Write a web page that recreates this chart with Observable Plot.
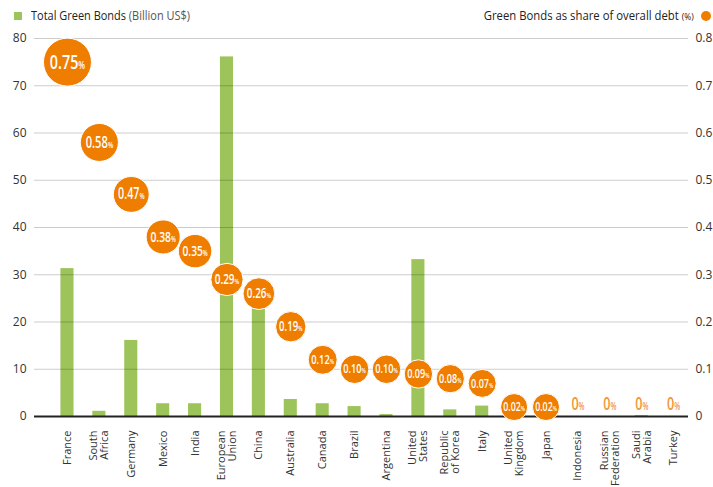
<!DOCTYPE html>
<html><head><meta charset="utf-8">
<script src="https://cdn.jsdelivr.net/npm/d3@7"></script>
<script src="https://cdn.jsdelivr.net/npm/@observablehq/plot@0.6"></script>
<style>
body{margin:0;background:#fff;}
#legend{position:relative;height:30px;width:713px;font-family:"Open Sans",sans-serif;font-size:12px;color:#222;}
#legend .l{position:absolute;left:14px;top:7px;white-space:nowrap;display:flex;align-items:center;}
#legend .r{position:absolute;right:2px;top:7px;white-space:nowrap;display:flex;align-items:center;}
#legend .txt{display:inline-block;white-space:nowrap;}
#legend .sq{display:inline-block;width:8px;height:8px;background:#9dc35b;margin-right:9px;}
#legend .light{color:#555;}
#legend .small{font-size:9px;}
#legend .dot{display:inline-block;width:10px;height:10px;border-radius:50%;background:#ee7d00;margin-left:7px;}
#chart svg{display:block;}
</style></head><body>
<div id="legend">
  <div class="l"><span class="sq"></span><span class="txt" id="lt">Total Green Bonds <span class="light">(Billion US$)</span></span></div>
  <div class="r"><span class="txt" id="rt">Green Bonds as share of overall debt <span class="small">(%)</span></span><span class="dot"></span></div>
</div>
<div id="chart"></div>
<script>
const countries = ["France","South\nAfrica","Germany","Mexico","India","European\nUnion","China","Australia","Canada","Brazil","Argentina","United\nStates","Republic\nof Korea","Italy","United\nKingdom","Japan","Indonesia","Russian\nFederation","Saudi\nArabia","Turkey"];
const greenBonds = [31.3,1.1,16.1,2.7,2.7,76.1,26,3.6,2.7,2.1,0.4,33.2,1.4,2.2,0.8,0.5,0,0,0.2,0];
const shareOfDebt = [0.75,0.58,0.47,0.38,0.35,0.29,0.26,0.19,0.12,0.10,0.10,0.09,0.08,0.07,0.02,0.02,0,0,0,0];
const leftTicks = [0,10,20,30,40,50,60,70,80];

const data = countries.map((c,i)=>({country:c, bonds:greenBonds[i], share:shareOfDebt[i]}));
const fmt = v => v === 0 ? "0" : v.toFixed(2);
const rDomain = [0,0.58,0.75], rRange = [13.3,19,24];
const fontScale = d3.scaleLinear(rDomain, [12.5,16,20.5]);

// condense legend texts to the reference widths
const lt = document.getElementById("lt");
lt.style.transform = `scaleX(${159/lt.getBoundingClientRect().width})`; lt.style.transformOrigin = "left center";
const rt = document.getElementById("rt");
rt.style.transform = `scaleX(${210/rt.getBoundingClientRect().width})`; rt.style.transformOrigin = "right center";

const plot = Plot.plot({
  width:713, height:457, marginTop:8, marginBottom:71, marginLeft:34, marginRight:25,
  style:{fontFamily:"'Open Sans', sans-serif", fontSize:"11px", color:"#333", background:"#fff"},
  x:{domain:countries, paddingInner:0.59, paddingOuter:0.545, align:0.76, round:false, label:null},
  y:{domain:[0,80], label:null},
  r:{type:"linear", domain:rDomain, range:rRange},
  marks:[
    Plot.barY(data,{x:"country", y:"bonds", fill:"#9dc35b"}),
    Plot.gridY(leftTicks.filter(d=>d>0),{stroke:"#000", strokeOpacity:0.2, strokeWidth:1.2}),
    Plot.ruleY([0],{stroke:"#222", strokeWidth:2}),
    Plot.axisY({anchor:"left", ticks:leftTicks, tickSize:0, tickPadding:8, fontSize:12, label:null}),
    Plot.axisY({anchor:"right", ticks:leftTicks, tickSize:0, tickPadding:7, fontSize:12, label:null, tickFormat:d=>String(d/100)}),
    Plot.axisX({tickRotate:-90, tickSize:0, tickPadding:14, label:null, fontSize:11}),
    Plot.dot(data.filter(d=>d.share>0),{x:"country", y:d=>d.share*100, r:"share", fill:"#ee7d00", stroke:"#fff", strokeWidth:1}),
    Plot.text(data.filter(d=>d.share>0),{x:"country", y:d=>d.share*100, text:d=>fmt(d.share)+"%", fill:"#fff", fontWeight:600, fontSize:d=>fontScale(d.share), className:"pct"}),
    Plot.text(data.filter(d=>d.share===0),{x:"country", y:d=>d.share*100, dy:-12, text:d=>fmt(d.share)+"%", fill:"#f2953a", fontWeight:600, fontSize:18, className:"pct"})
  ]
});
document.getElementById("chart").appendChild(plot);
plot.querySelectorAll(".pct text").forEach(t=>{
  const s = t.textContent;
  if (s.endsWith("%")) {
    t.textContent = s.slice(0,-1);
    const ts = document.createElementNS("http://www.w3.org/2000/svg","tspan");
    ts.setAttribute("font-size","0.55em");
    ts.textContent = "%";
    t.appendChild(ts);
  }
  // condensed look: wrap in a group that squeezes horizontally around the text's centre
  const g = document.createElementNS("http://www.w3.org/2000/svg","g");
  t.parentNode.insertBefore(g, t);
  g.appendChild(t);
  const bb = g.getBBox();
  const cx = bb.x + bb.width/2;
  g.setAttribute("transform", `translate(${cx},0) scale(0.7,1) translate(${-cx},0)`);
});
</script>
</body></html>
